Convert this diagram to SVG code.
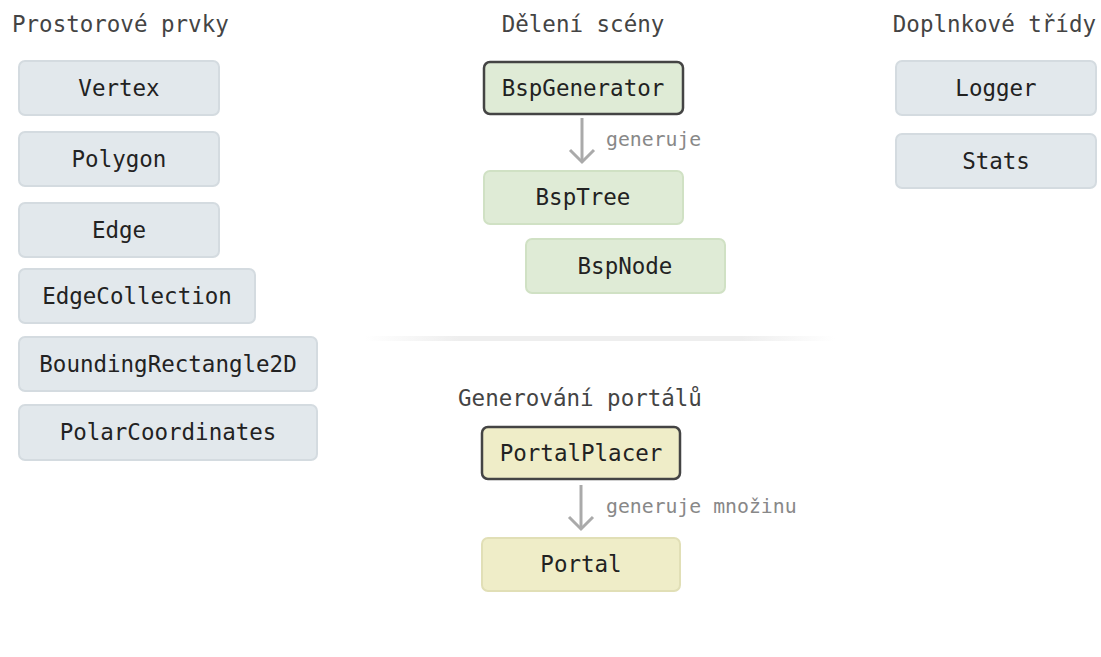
<svg xmlns="http://www.w3.org/2000/svg" width="1101" height="657" viewBox="0 0 1101 657">
<style>
.t{font-family:"DejaVu Sans Mono","Liberation Mono",monospace;font-size:22.5px;fill:#222;text-anchor:middle;dominant-baseline:central}
.h{font-family:"DejaVu Sans Mono","Liberation Mono",monospace;font-size:22.5px;fill:#444}
.l{font-family:"DejaVu Sans Mono","Liberation Mono",monospace;font-size:19.8px;fill:#888}
.g rect{fill:#e2e8ec;stroke:#d4dbe0;stroke-width:2}
.gr rect{fill:#dfebd6;stroke:#d0e1c4;stroke-width:2}
.y rect{fill:#efedc8;stroke:#e1dfb6;stroke-width:2}
.main rect{stroke:#444;stroke-width:2.5}
.c{stroke:#aaa;stroke-width:3;fill:none}
</style>
<defs>
<linearGradient id="sep" x1="0" x2="1" y1="0" y2="0">
<stop offset="0" stop-color="#eee" stop-opacity="0"/>
<stop offset="0.2" stop-color="#eee"/>
<stop offset="0.8" stop-color="#eee"/>
<stop offset="1" stop-color="#eee" stop-opacity="0"/>
</linearGradient>
</defs>
<rect width="1101" height="657" fill="#fff"/>
<text class="h" x="12" y="32">Prostorové prvky</text>
<text class="h" x="583" y="32" text-anchor="middle">Dělení scény</text>
<text class="h" x="1096" y="32" text-anchor="end">Doplnkové třídy</text>
<text class="h" x="580" y="406" text-anchor="middle">Generování portálů</text>
<rect x="365" y="336" width="470" height="5" fill="url(#sep)"/>

<g id="vertex" class="g"><rect x="19" y="61" width="200" height="54" rx="6"/><text class="t" x="119" y="88">Vertex</text></g>
<g id="polygon" class="g"><rect x="19" y="132" width="200" height="54" rx="6"/><text class="t" x="119" y="159">Polygon</text></g>
<g id="edge" class="g"><rect x="19" y="203" width="200" height="54" rx="6"/><text class="t" x="119" y="230">Edge</text></g>
<g id="edgecollection" class="g"><rect x="19" y="269" width="236" height="54" rx="6"/><text class="t" x="137" y="296">EdgeCollection</text></g>
<g id="boundingrect" class="g"><rect x="19" y="337" width="298" height="54" rx="6"/><text class="t" x="168" y="364">BoundingRectangle2D</text></g>
<g id="polarcoords" class="g"><rect x="19" y="405" width="298" height="55" rx="6"/><text class="t" x="168" y="432">PolarCoordinates</text></g>

<g id="logger" class="g"><rect x="896" y="61" width="200" height="54" rx="6"/><text class="t" x="996" y="88">Logger</text></g>
<g id="stats" class="g"><rect x="896" y="134" width="200" height="54" rx="6"/><text class="t" x="996" y="161">Stats</text></g>

<g id="bspgenerator" class="gr main"><rect x="484" y="62" width="199" height="52" rx="6"/><text class="t" x="583" y="88">BspGenerator</text></g>
<g id="bsptree" class="gr"><rect x="484" y="171" width="199" height="53" rx="6"/><text class="t" x="583" y="197">BspTree</text></g>
<g id="bspnode" class="gr"><rect x="526" y="239" width="199" height="54" rx="6"/><text class="t" x="625" y="266">BspNode</text></g>

<g id="portalplacer" class="y main"><rect x="482" y="427" width="198" height="52" rx="6"/><text class="t" x="581" y="453">PortalPlacer</text></g>
<g id="portal" class="y"><rect x="482" y="538" width="198" height="53" rx="6"/><text class="t" x="581" y="564">Portal</text></g>

<g id="connectors">
<line class="c" x1="582" y1="118" x2="582" y2="161"/>
<polyline class="c" points="570,150 582,162 594,150"/>
<text class="l" x="606" y="146">generuje</text>
<line class="c" x1="581" y1="485" x2="581" y2="528"/>
<polyline class="c" points="569,517 581,529 593,517"/>
<text class="l" x="606" y="513">generuje množinu</text>
</g>
</svg>
